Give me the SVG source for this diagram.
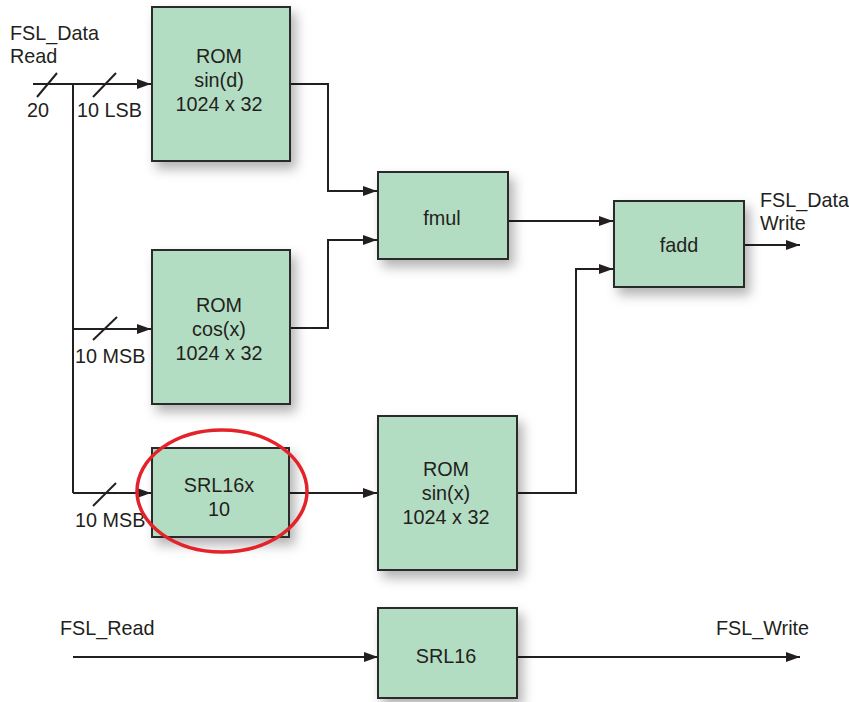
<svg xmlns="http://www.w3.org/2000/svg" width="849" height="702" viewBox="0 0 849 702">
<style>
.box{fill:#b3ddc3;stroke:#2b2b2b;stroke-width:2;filter:url(#sh)}
.t{font-family:"Liberation Sans",Arial,sans-serif;font-size:19.8px;fill:#231f20}
.c{text-anchor:middle}
.w{fill:none;stroke:#231f20;stroke-width:2}
.a{fill:none;stroke:#231f20;stroke-width:2;marker-end:url(#ah)}
</style>
<defs>
<filter id="sh" x="-20%" y="-20%" width="150%" height="150%">
<feDropShadow dx="5" dy="7" stdDeviation="6" flood-color="#000" flood-opacity="0.3"/>
</filter>
<marker id="ah" markerWidth="14" markerHeight="10" refX="14" refY="5" orient="auto" markerUnits="userSpaceOnUse">
<path d="M0,0 L14,5 L0,10 Z" fill="#231f20"/>
</marker>
</defs>
<rect width="849" height="702" fill="#fff"/>
<g id="connectors">
<path class="a" d="M33,84 H151"/>
<path class="w" d="M73,84 V493"/>
<path class="a" d="M73,329 H151"/>
<path class="a" d="M73,493 H151"/>
<path class="w" d="M37,97 L57,73"/>
<path class="w" d="M93,97 L116,73"/>
<path class="w" d="M93,340 L117,317"/>
<path class="w" d="M93,506 L116,483"/>
<path class="a" d="M290,84 H328 V191 H377"/>
<path class="a" d="M290,328 H328 V240 H377"/>
<path class="a" d="M508,221 H613"/>
<path class="a" d="M289,493 H377"/>
<path class="a" d="M517,493 H576 V269 H613"/>
<path class="a" d="M744,245 H800"/>
<path class="a" d="M73,657 H378"/>
<path class="a" d="M517,657 H800"/>
</g>
<g id="labels">
<text class="t" x="10" y="40">FSL_Data</text>
<text class="t" x="10" y="63">Read</text>
<text class="t" x="27" y="117">20</text>
<text class="t" x="77" y="117">10 LSB</text>
<text class="t" x="75" y="363">10 MSB</text>
<text class="t" x="75" y="527">10 MSB</text>
<text class="t" x="760" y="207">FSL_Data</text>
<text class="t" x="760" y="230">Write</text>
<text class="t" x="60" y="635">FSL_Read</text>
<text class="t" x="716" y="635">FSL_Write</text>
</g>
<g id="rom_sind">
<rect class="box" x="152" y="7" width="138" height="154"/>
<text class="t c" x="219" y="63">ROM</text>
<text class="t c" x="219" y="87">sin(d)</text>
<text class="t c" x="219" y="111">1024 x 32</text>
</g>
<g id="rom_cosx">
<rect class="box" x="152" y="250" width="138" height="154"/>
<text class="t c" x="219" y="312">ROM</text>
<text class="t c" x="219" y="336">cos(x)</text>
<text class="t c" x="219" y="360">1024 x 32</text>
</g>
<g id="fmul">
<rect class="box" x="378" y="172" width="130" height="87"/>
<text class="t c" x="442" y="225">fmul</text>
</g>
<g id="fadd">
<rect class="box" x="614" y="201" width="130" height="86"/>
<text class="t c" x="679" y="252">fadd</text>
</g>
<g id="srl16x">
<rect class="box" x="152" y="448" width="137" height="89"/>
<text class="t c" x="219" y="492">SRL16x</text>
<text class="t c" x="219" y="516">10</text>
</g>
<g id="rom_sinx">
<rect class="box" x="378" y="416" width="139" height="154"/>
<text class="t c" x="446" y="476">ROM</text>
<text class="t c" x="446" y="500">sin(x)</text>
<text class="t c" x="446" y="524">1024 x 32</text>
</g>
<g id="srl16">
<rect class="box" x="378" y="608" width="139" height="90"/>
<text class="t c" x="446" y="663">SRL16</text>
</g>
<g id="highlight">
<ellipse cx="222" cy="491" rx="85" ry="61" fill="none" stroke="#e3222a" stroke-width="3.5"/>
</g>
</svg>
